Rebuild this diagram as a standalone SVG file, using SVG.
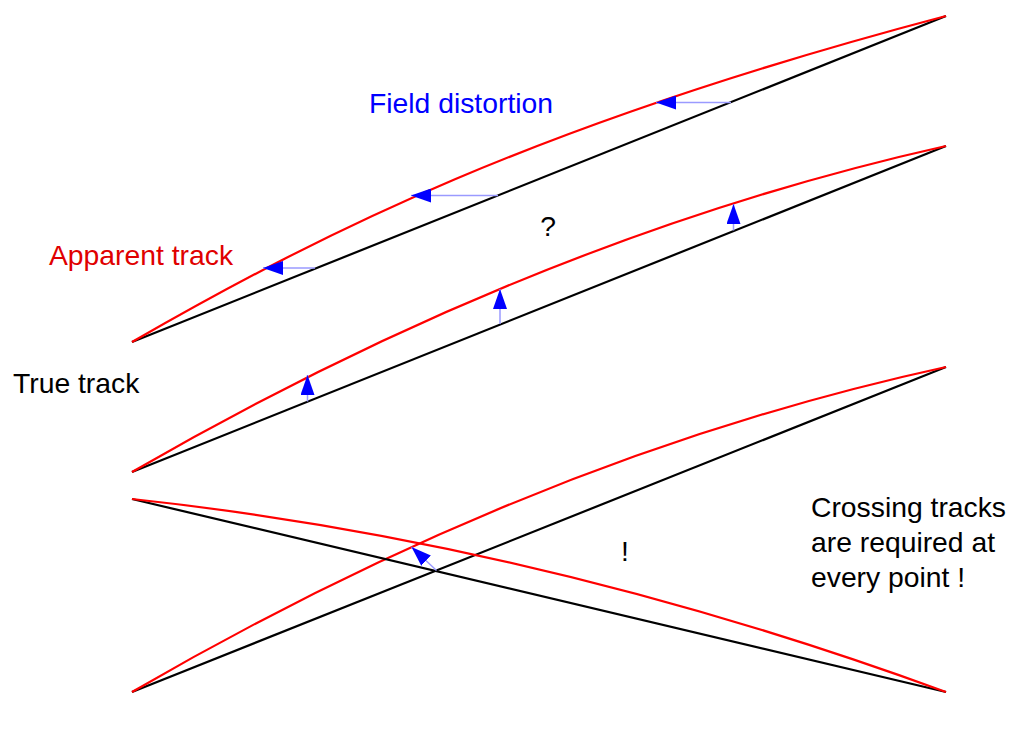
<svg xmlns="http://www.w3.org/2000/svg" width="1009" height="729" viewBox="0 0 1009 729">
<style>
.blk{fill:none;stroke:#000;stroke-width:2.2}
.red{fill:none;stroke:#f00;stroke-width:2.2}
.arr{fill:none;stroke:#9a9aff;stroke-width:1.5}
text{font-family:"Liberation Sans",Arial,sans-serif;font-size:28.3px}
</style>
<defs>
<marker id="ah" viewBox="0 0 20 14" refX="20" refY="7" markerWidth="20" markerHeight="14" markerUnits="userSpaceOnUse" orient="auto">
<path d="M0,0 L20,7 L0,14 z" fill="#0000ff"/>
</marker>
</defs>
<rect width="1009" height="729" fill="#fff"/>
<g id="connectors">
<path class="blk" d="M132,342 L946,16"/>
<path class="red" d="M132,342 C321.7,233.3 533.8,124.7 946,16"/>
<path class="blk" d="M132,472 L946,146"/>
<path class="red" d="M132,472 Q539,237 946,146"/>
<path class="blk" d="M132,692 L946,367"/>
<path class="red" d="M132,692 Q539,455.5 946,367"/>
<path class="blk" d="M132,499 L946,692"/>
<path class="red" d="M132,499 Q539,543 946,692"/>
<line class="arr" x1="315" y1="268" x2="263" y2="268" marker-end="url(#ah)"/>
<line class="arr" x1="498" y1="195.5" x2="411" y2="195.5" marker-end="url(#ah)"/>
<line class="arr" x1="731" y1="102.5" x2="656" y2="102.5" marker-end="url(#ah)"/>
<line class="arr" x1="307.5" y1="401.5" x2="307.5" y2="375" marker-end="url(#ah)"/>
<line class="arr" x1="500" y1="324" x2="500" y2="289" marker-end="url(#ah)"/>
<line class="arr" x1="733.5" y1="230.5" x2="733.5" y2="204" marker-end="url(#ah)"/>
<line class="arr" x1="436.5" y1="570.5" x2="411.5" y2="547" marker-end="url(#ah)"/>
</g>
<g id="labels">
<text x="369" y="113" fill="#0000ff">Field distortion</text>
<text x="49" y="265" fill="#e00000">Apparent track</text>
<text x="13" y="393" fill="#000">True track</text>
<text x="548" y="236" fill="#000" text-anchor="middle">?</text>
<text x="625" y="561" fill="#000" text-anchor="middle">!</text>
<text x="811" y="517" fill="#000">Crossing tracks</text>
<text x="811" y="552" fill="#000">are required at</text>
<text x="811" y="587" fill="#000">every point !</text>
</g>
</svg>
